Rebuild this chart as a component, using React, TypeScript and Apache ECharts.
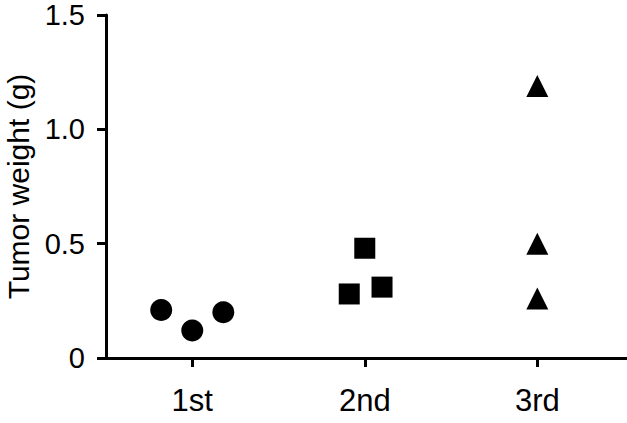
import React, { useEffect, useRef } from "react";
import * as echarts from "echarts";

const categories = ["1st", "2nd", "3rd"];
const yTicks = [0, 0.5, 1.0, 1.5];
const firstX = [0.82, 1.0, 1.18];
const firstY = [0.21, 0.12, 0.2];
const secondX = [1.91, 2.0, 2.1];
const secondY = [0.28, 0.48, 0.31];
const thirdX = [3, 3, 3];
const thirdY = [1.19, 0.5, 0.26];

const FONT = "'Liberation Sans', Arial, sans-serif";

function pts(xs: number[], ys: number[]) {
  return xs.map((x, i) => [x, ys[i]]);
}

export default function App() {
  const ref = useRef<HTMLDivElement>(null);
  useEffect(() => {
    if (!ref.current) return;
    const chart = echarts.init(ref.current, undefined, { renderer: "svg" });
    const axisLineStyle = { color: "#000", width: 3 };
    const mark = { color: "#000", opacity: 1 };
    chart.setOption({
      animation: false,
      backgroundColor: "#fff",
      grid: { left: 106, right: 0, top: 15, bottom: 65, containLabel: false, outerBoundsMode: "none" },
      xAxis: {
        type: "value",
        min: 0.5,
        max: 3.52,
        splitLine: { show: false },
        axisLine: { show: true, onZero: false, lineStyle: axisLineStyle },
        axisTick: { show: true, length: 9, lineStyle: axisLineStyle, customValues: [1, 2, 3] },
        axisLabel: {
          customValues: [1, 2, 3],
          formatter: (v: number) => categories[Math.round(v) - 1] ?? "",
          color: "#000",
          fontSize: 31,
          fontFamily: FONT,
          margin: 27,
        },
      },
      yAxis: {
        type: "value",
        min: 0,
        max: 1.5,
        splitLine: { show: false },
        name: "Tumor weight (g)",
        nameLocation: "middle",
        nameGap: 73,
        nameTextStyle: { color: "#000", fontSize: 30, lineHeight: 26, fontFamily: FONT },
        axisLine: { show: true, lineStyle: axisLineStyle },
        axisTick: { show: true, length: 9, lineStyle: axisLineStyle, customValues: yTicks },
        axisLabel: {
          customValues: yTicks,
          formatter: (v: number) => (v === 0 ? "0" : v.toFixed(1)),
          color: "#000",
          fontSize: 29,
          lineHeight: 24,
          fontFamily: FONT,
          margin: 21,
        },
      },
      series: [
        { type: "scatter", symbol: "circle", symbolSize: 22, itemStyle: mark, data: pts(firstX, firstY) },
        { type: "scatter", symbol: "rect", symbolSize: 21, itemStyle: mark, data: pts(secondX, secondY) },
        { type: "scatter", symbol: "triangle", symbolSize: 22, itemStyle: mark, data: pts(thirdX, thirdY) },
      ],
    });
    return () => chart.dispose();
  }, []);
  return <div ref={ref} style={{ position: "fixed", left: 0, top: 0, width: 627, height: 423 }} />;
}
